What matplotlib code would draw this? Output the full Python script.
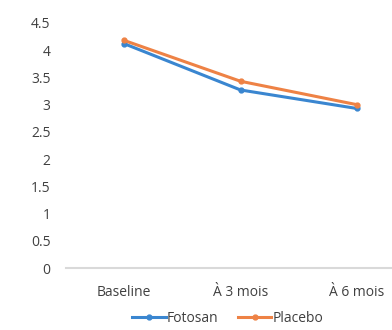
import matplotlib.pyplot as plt

categories = ["Baseline", "À 3 mois", "À 6 mois"]
fotosan = [4.12, 3.27, 2.93]
placebo = [4.18, 3.43, 3.0]
yticks = [0, 0.5, 1, 1.5, 2, 2.5, 3, 3.5, 4, 4.5]

plt.rcParams["font.family"] = ["Open Sans", "DejaVu Sans"]

fig = plt.figure(figsize=(3.92, 3.3), dpi=100)
# plot area runs past the right edge, as in the cropped reference
ax = fig.add_axes([66 / 392, 62 / 330, 349 / 392, 245 / 330])

x = range(len(categories))
ax.plot(x, fotosan, color="#3a86d0", lw=2.2, marker="o", ms=3.5, label="Fotosan")
ax.plot(x, placebo, color="#ee8245", lw=2.2, marker="o", ms=3.5, label="Placebo")

ax.set_xlim(-0.5, 2.5)
ax.set_ylim(0, 4.5)
ax.set_yticks(yticks)
ax.set_yticklabels([f"{v:g}" for v in yticks])
ax.set_xticks(list(x))
ax.set_xticklabels(categories)
ax.tick_params(axis="both", length=0, labelsize=10, colors="#404040")
ax.tick_params(axis="y", pad=11)
ax.tick_params(axis="x", pad=12)

for s in ["top", "right", "left"]:
    ax.spines[s].set_visible(False)
ax.spines["bottom"].set_color("#d9d9d9")
ax.spines["bottom"].set_linewidth(1.5)

fig.legend(loc="lower center", bbox_to_anchor=(228 / 392, -0.025), ncol=2,
           frameon=False, fontsize=10, handlelength=2.4, columnspacing=1.4,
           handletextpad=0.1, labelcolor="#404040")

fig.savefig("out.png", dpi=100)
